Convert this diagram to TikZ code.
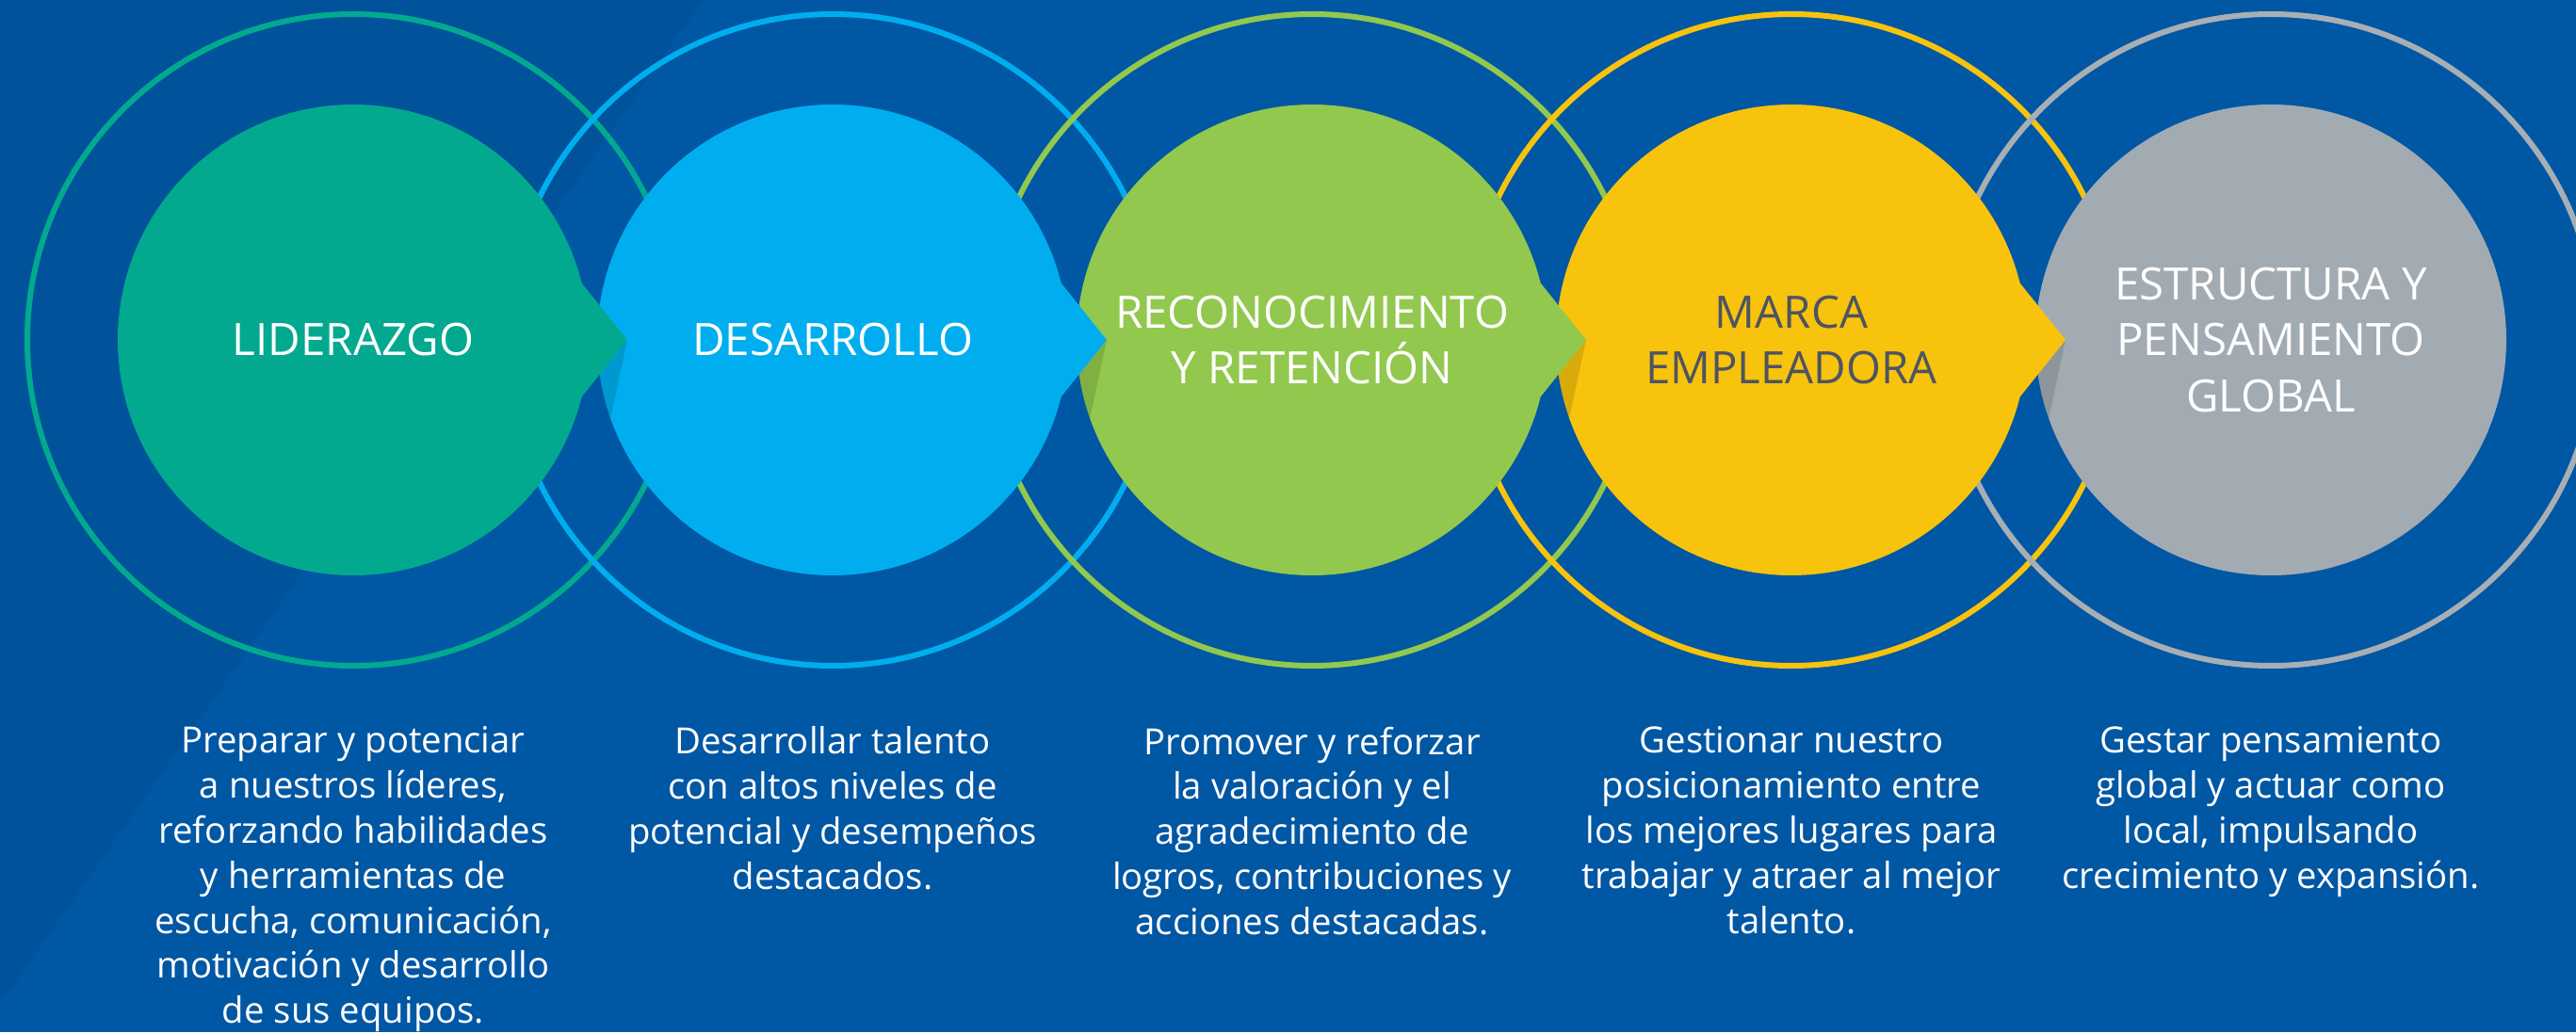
\documentclass[tikz,border=0pt]{standalone}
\usepackage{fontspec}
\setmainfont{Open Sans}
\usetikzlibrary{positioning}
\definecolor{bgblue}{RGB}{0,87,164}
\definecolor{bgdark}{RGB}{0,82,155}
\definecolor{lider}{RGB}{2,169,143}
\definecolor{desarr}{RGB}{0,174,239}
\definecolor{recon}{RGB}{146,200,78}
\definecolor{marca}{RGB}{248,195,12}
\definecolor{estruc}{RGB}{162,171,177}
\definecolor{marcatext}{RGB}{77,84,98}
\tikzset{
  disc/.style    = {circle, minimum size=5cm, inner sep=0pt, outer sep=0pt,
                    text=white, align=center,
                    font=\fontsize{13.5}{17}\selectfont},
  ring/.style    = {line width=0.6mm},
  % text under each disc
  desc/.style    = {text=white, align=center, inner sep=0pt,
                    font=\fontsize{10.9}{13.6}\selectfont},
  pointer/.style = {fill=#1},
  shade/.style   = {fill=black, fill opacity=0.12},
}

\begin{document}
\begin{tikzpicture}
    \useasboundingbox (0,0) rectangle (27.35,10.96);
    \clip (0,0) rectangle (27.35,10.96);
    \fill[bgblue] (0,0) rectangle (27.35,10.96);
    \fill[bgdark] (0,10.96) -- (7.46,10.96) -- (0,0.30) -- cycle;

    \draw[ring, draw=lider]  (3.75,7.35)  circle (3.46);
    \draw[ring, draw=desarr] (8.84,7.35)  circle (3.46);
    \draw[ring, draw=recon]  (13.93,7.35) circle (3.46);
    \draw[ring, draw=marca]  (19.02,7.35) circle (3.46);
    \draw[ring, draw=estruc!95!white] (24.11,7.35) circle (3.46);

    \node[disc, fill=lider]  (l) at (3.75,7.35)  {LIDERAZGO};
    \node[disc, fill=desarr] (d) at (8.84,7.35)  {DESARROLLO};
    \node[disc, fill=recon]  (r) at (13.93,7.35) {RECONOCIMIENTO\\Y RETENCIÓN};
    \node[disc, fill=marca, text=marcatext] (m) at (19.02,7.35) {MARCA\\EMPLEADORA};
    \node[disc, fill=estruc] (e) at (24.11,7.35) {ESTRUCTURA Y\\PENSAMIENTO\\GLOBAL};

    % shadows under the pointers
    \begin{scope}
      \clip (d.center) circle (2.5);
      \fill[shade] ([xshift=4.1mm]l.east) -- ++(-0.18,-0.84) -- ++(-0.6,0) -- (l.-14) -- cycle;
    \end{scope}
    \begin{scope}
      \clip (r.center) circle (2.5);
      \fill[shade] ([xshift=4.1mm]d.east) -- ++(-0.18,-0.84) -- ++(-0.6,0) -- (d.-14) -- cycle;
    \end{scope}
    \begin{scope}
      \clip (m.center) circle (2.5);
      \fill[shade] ([xshift=4.1mm]r.east) -- ++(-0.18,-0.84) -- ++(-0.6,0) -- (r.-14) -- cycle;
    \end{scope}
    \begin{scope}
      \clip (e.center) circle (2.5);
      \fill[shade] ([xshift=4.1mm]m.east) -- ++(-0.18,-0.84) -- ++(-0.6,0) -- (m.-14) -- cycle;
    \end{scope}

    \fill[pointer=lider]  (l.14) -- ([xshift=4.1mm]l.east) -- (l.-14) -- cycle;
    \fill[pointer=desarr] (d.14) -- ([xshift=4.1mm]d.east) -- (d.-14) -- cycle;
    \fill[pointer=recon]  (r.14) -- ([xshift=4.1mm]r.east) -- (r.-14) -- cycle;
    \fill[pointer=marca]  (m.14) -- ([xshift=4.1mm]m.east) -- (m.-14) -- cycle;

    \node[desc, below=1.6cm of l] (ld) {Preparar y potenciar\\a nuestros líderes,\\reforzando habilidades\\y herramientas de\\escucha, comunicación,\\motivación y desarrollo\\de sus equipos.};
    \node[desc, below=1.6cm of d] (dd) {Desarrollar talento\\con altos niveles de\\potencial y desempeños\\destacados.};
    \node[desc, below=1.6cm of r] (rd) {Promover y reforzar\\la valoración y el\\agradecimiento de\\logros, contribuciones y\\acciones destacadas.};
    \node[desc, below=1.6cm of m] (md) {Gestionar nuestro\\posicionamiento entre\\los mejores lugares para\\trabajar y atraer al mejor\\talento.};
    \node[desc, below=1.6cm of e] (ed) {Gestar pensamiento\\global y actuar como\\local, impulsando\\crecimiento y expansión.};
  \end{tikzpicture}
\end{document}
